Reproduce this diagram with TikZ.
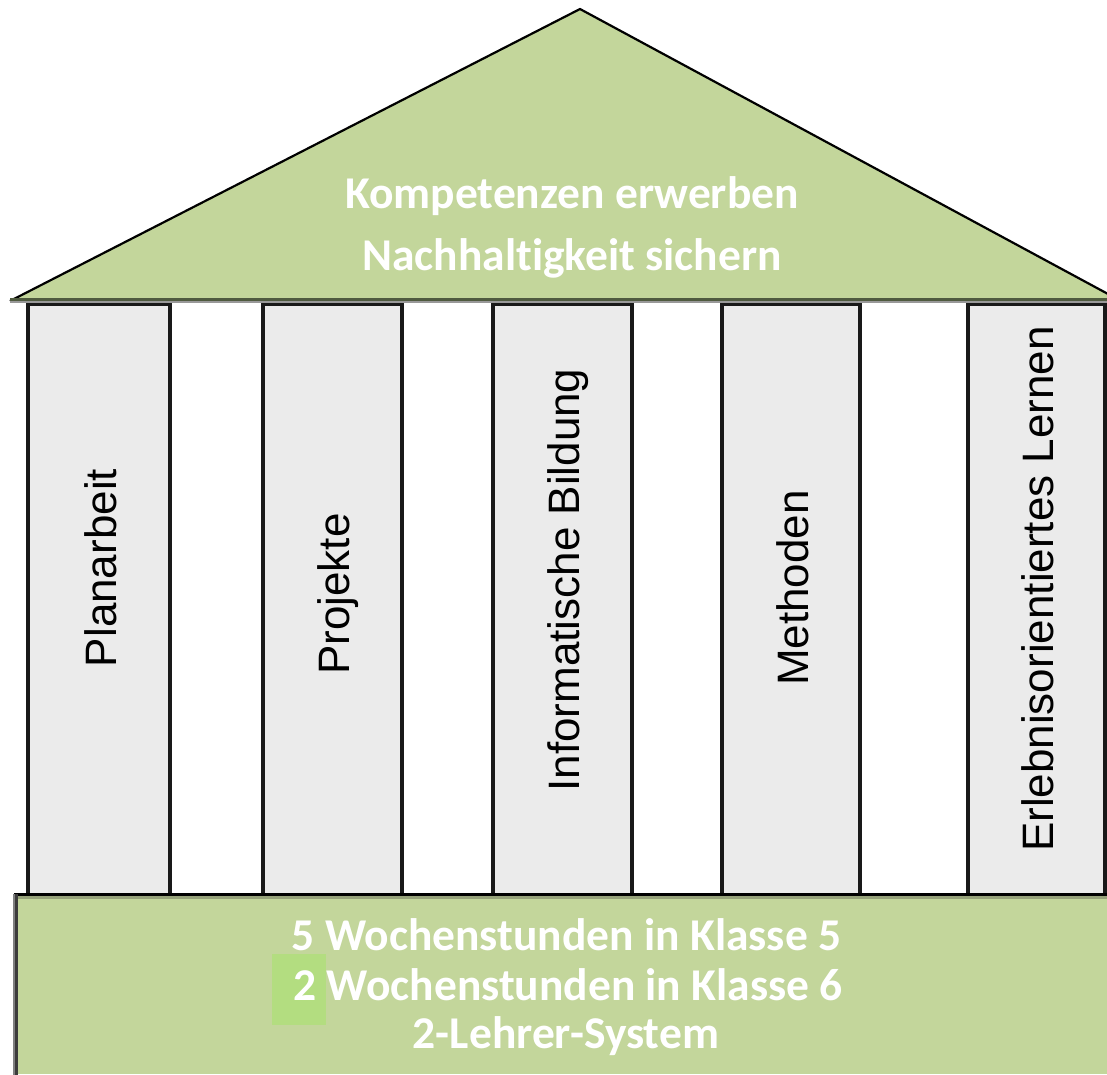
\documentclass[tikz,border=0pt]{standalone}
\usepackage{fontspec}
\setmainfont{Liberation Sans}
\newfontfamily\calfont[Ligatures=NoCommon]{Carlito}
\definecolor{roofgreen}{HTML}{C3D69B}
\definecolor{pillargray}{HTML}{EBEBEB}
\definecolor{hlgreen}{HTML}{B3DD80}
\definecolor{darkolive}{HTML}{4F5A3F}
\definecolor{stripolive}{HTML}{96A27A}
\definecolor{edgegray}{HTML}{3C3C3C}
\tikzset{
  pillar/.style={draw=black!90, line width=3.5, fill=pillargray, inner sep=0pt,
    minimum height=592, anchor=north},
  pillartext/.style={rotate=90, anchor=base, inner sep=0pt,
    font=\fontsize{44}{50}\selectfont, text=black},
  whitetext/.style={anchor=base, inner sep=0pt, text=white,
    font=\calfont\bfseries\fontsize{45.5}{50}\selectfont},
}
\begin{document}
\begin{tikzpicture}[x=1pt,y=-1pt]
\useasboundingbox (0,0) rectangle (1107,1074);
\fill[white] (0,0) rectangle (1107,1074);
% pillars
\node[pillar, minimum width=142] (p1) at (99,302) {};
\node[pillar, minimum width=139] (p2) at (332.5,302) {};
\node[pillar, minimum width=139] (p3) at (562.5,302) {};
\node[pillar, minimum width=138] (p4) at (791,302) {};
\node[pillar, minimum width=137] (p5) at (1036.5,302) {};
% pillar texts
\node[pillartext] (t1) at (116,568) {Planarbeit};
\node[pillartext] (t2) at (349.5,594) {Projekte};
\node[pillartext] (t3) at (579.5,580) {Informatische Bildung};
\node[pillartext] (t4) at (808,588) {Methoden};
\node[pillartext] (t5) at (1053.5,589) {Erlebnisorientiertes Lernen};
% roof
\fill[roofgreen] (10,301) -- (580,9) -- (1121,301) -- cycle;
\draw[black, line width=2.2, line join=miter] (10,301) -- (580,9) -- (1121,301);
\draw[darkolive, line width=3] (10,299.5) -- (1121,299.5);
\draw[gray!80, line width=1.5] (10,302.2) -- (1121,302.2);
\node[whitetext] (r1) at (572,208) {Kompetenzen erwerben};
\node[whitetext] (r2) at (572,270) {Nachhaltigkeit sichern};
% base
\node[fill=roofgreen, inner sep=0pt, anchor=north west, minimum width=1100,
  minimum height=180] (base) at (16,894) {};
\draw[black, line width=3] (14,894.5) -- (1110,894.5);
\draw[stripolive, line width=3] (18,897.5) -- (1110,897.5);
\draw[gray, line width=2] (14,894) -- (14,1080);
\draw[edgegray, line width=3] (16.5,894) -- (16.5,1080);
\node[fill=hlgreen, inner sep=0pt, minimum width=54, minimum height=71]
  (hl) at (299,989.5) {};
\node[whitetext] (b1) at (566.5,950) {5 Wochenstunden in Klasse 5};
\node[whitetext] (b2) at (568,1000) {2 Wochenstunden in Klasse 6};
\node[whitetext] (b3) at (566,1048) {2-Lehrer-System};
\end{tikzpicture}
\end{document}
